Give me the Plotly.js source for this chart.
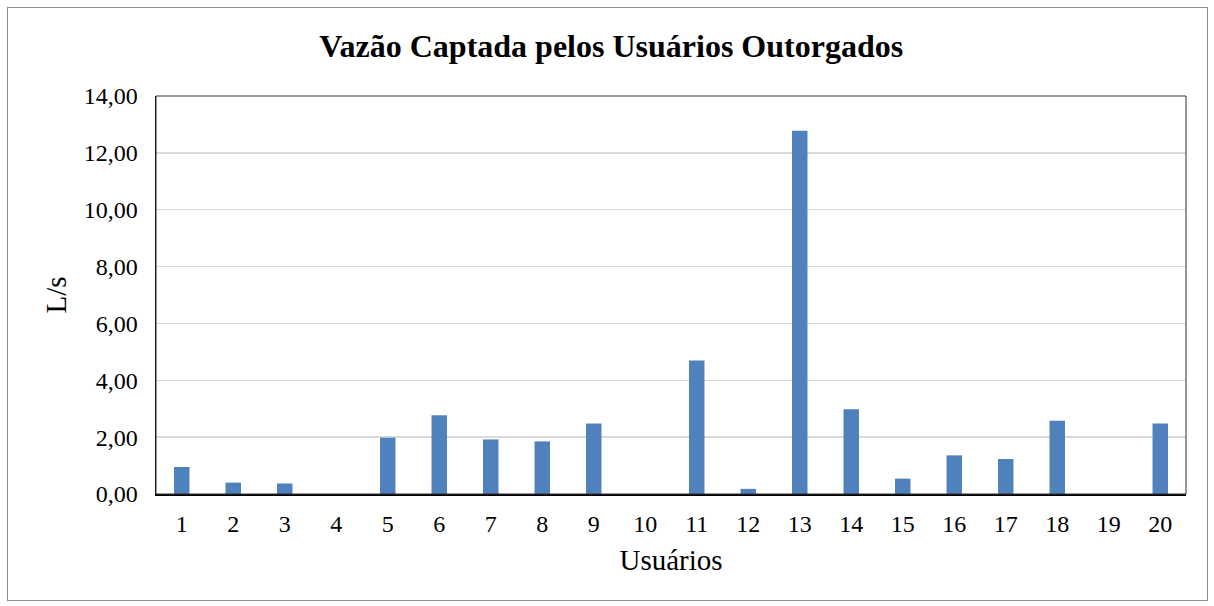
<!DOCTYPE html>
<html><head><meta charset="utf-8">
<script src="https://cdn.plot.ly/plotly-3.0.1.min.js"></script>
<style>
body{margin:0;padding:0;background:#fff;}
#wrap{position:relative;width:1214px;height:606px;}
#chart{position:absolute;left:0;top:0;width:1214px;height:606px;}
#frame{position:absolute;left:7px;top:7px;width:1199px;height:592px;border:1px solid #8c8c8c;pointer-events:none;}
</style></head>
<body><div id="wrap"><div id="chart"></div><div id="frame"></div></div>
<script>
const usuarios = ['1','2','3','4','5','6','7','8','9','10','11','12','13','14','15','16','17','18','19','20'];
const vazao = [0.95,0.40,0.37,0,1.98,2.77,1.92,1.85,2.48,0,4.70,0.18,12.78,2.98,0.54,1.36,1.23,2.58,0,2.48];
const yTicks = [0,2,4,6,8,10,12,14];

const serif = 'Liberation Serif, Times New Roman, serif';
const trace = {
  type:'bar', x:usuarios, y:vazao,
  marker:{color:'#4F81BD', line:{width:0}},
  hoverinfo:'x+y'
};
const layout = {
  width:1214, height:606,
  margin:{l:156, r:28, t:96, b:112},
  paper_bgcolor:'#fff', plot_bgcolor:'#fff',
  separators:',.',
  bargap:0.7,
  showlegend:false,
  font:{family:serif, color:'#000', size:24},
  title:{text:'<b>Vazão Captada pelos Usuários Outorgados</b>', font:{family:serif,size:32,color:'#000'}, x:0.5035, xanchor:'center', y:0.925, yanchor:'middle'},
  xaxis:{type:'category', showline:true, linecolor:'#000', linewidth:2, ticks:'', showgrid:false,
    tickfont:{family:serif,size:24,color:'#000'}, ticklabelstandoff:7,
    title:{text:'Usuários', font:{family:serif,size:29,color:'#000'}, standoff:14}},
  yaxis:{range:[0,14], tickvals:yTicks, tickformat:'.2f', showline:true, linecolor:'#000', linewidth:1.5,
    ticks:'', ticklen:0, showgrid:true, gridcolor:'#d9d9d9', gridwidth:1.5, zeroline:false,
    tickfont:{family:serif,size:24,color:'#000'}, ticklabelstandoff:12,
    title:{text:'L/s', font:{family:serif,size:29,color:'#000'}, standoff:8}},
  shapes:[{type:'rect', xref:'paper', yref:'paper', x0:0, x1:1, y0:0, y1:1, line:{color:'#333', width:1}, layer:'above'}]
};
Plotly.newPlot('chart', [trace], layout, {displayModeBar:false, staticPlot:true});
</script></body></html>
